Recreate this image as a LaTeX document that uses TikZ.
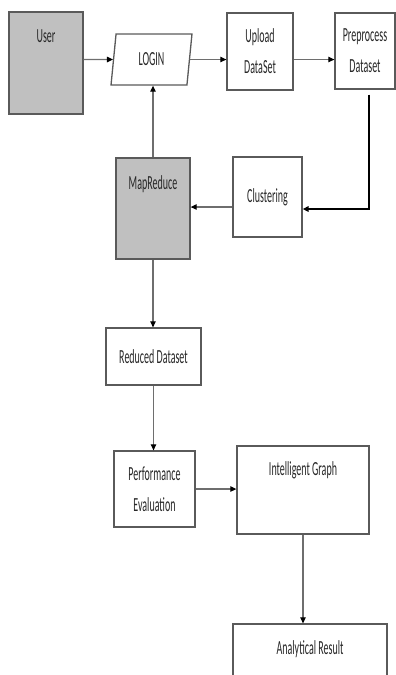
\documentclass[tikz,border=0pt]{standalone}
\usepackage{fontspec}
\setmainfont{Carlito}[FakeStretch=0.5]
\usetikzlibrary{shapes.geometric,arrows.meta}
\definecolor{boxgrey}{RGB}{192,192,192}
\definecolor{boxline}{RGB}{90,90,90}
\definecolor{arrline}{RGB}{110,110,110}
\definecolor{txt}{RGB}{40,40,40}
\begin{document}
\begin{tikzpicture}[x=1pt,y=-1pt]
\tikzstyle{every node}+=[inner sep=0pt,text=txt,font=\fontsize{20}{31}\selectfont]
\tikzstyle{box}=[draw=boxline,line width=1.3pt,fill=white,align=center]
\tikzstyle{greybox}=[box,fill=boxgrey]
\tikzstyle{toptext}=[anchor=north,yshift=-18pt]
\tikzstyle{arr}=[draw=arrline,line width=1.2pt,-{Triangle[length=6pt,width=5.5pt,color=black]}]
\tikzstyle{arrdark}=[draw=black,line width=1.4pt,-{Triangle[length=6pt,width=5.5pt]}]
\useasboundingbox (0,0) rectangle (396,675);
\clip (0,0) rectangle (396,675);
% top row
\node [greybox,minimum width=74pt,minimum height=102pt,label={[toptext]north:User}] (user) at (46,63) {};
\node [box,trapezium,trapezium left angle=82,trapezium right angle=98,trapezium stretches=true,
  minimum width=81pt,minimum height=51pt] (login) at (151.5,59.5) {LOGIN};
\node [box,minimum width=66pt,minimum height=77pt] (upload) at (260,51.5) {Upload\\DataSet};
\node [box,minimum width=60pt,minimum height=76pt] (pre) at (365,51) {Preprocess\\Dataset};
% middle
\node [greybox,minimum width=74pt,minimum height=101pt,label={[toptext]north:MapReduce}] (map) at (153,208.5) {};
\node [box,minimum width=69pt,minimum height=80pt] (clust) at (267.5,197) {Clustering};
\node [box,minimum width=95pt,minimum height=57pt] (red) at (153.5,356.5) {Reduced Dataset};
% bottom
\node [box,minimum width=81pt,minimum height=76pt] (perf) at (154.5,489) {Performance\\Evaluation};
\node [box,minimum width=132pt,minimum height=88pt,label={[toptext,yshift=2pt]north:Intelligent Graph}] (intel) at (303,490) {};
\node [box,minimum width=154pt,minimum height=72pt,label={[toptext,yshift=1pt]north:Analytical Result}] (anal) at (310,660) {};
% connectors
\draw [arr] (user.east |- login) -- (login);
\draw [arr] (login.east) -- (login.east -| upload.west);
\draw [arr] (login.east -| upload.east) -- (login.east -| pre.west);
\draw [arrdark] ([xshift=4pt,yshift=-5pt]pre.south) |- ([yshift=-12pt]clust.east);
\draw [arr] ([yshift=-10pt]clust.west) -- ([yshift=-10pt]clust.west -| map.east);
\draw [arr] (map.north) -- (map.north |- login.south);
\draw [arr] (map.south) -- (map.south |- red.north);
\draw [arr] (red.south) -- (red.south |- perf.north);
\draw [arr] (perf.east) -- (perf.east -| intel.west);
\draw [arr] (intel.south) -- (intel.south |- anal.north);
\end{tikzpicture}
\end{document}
